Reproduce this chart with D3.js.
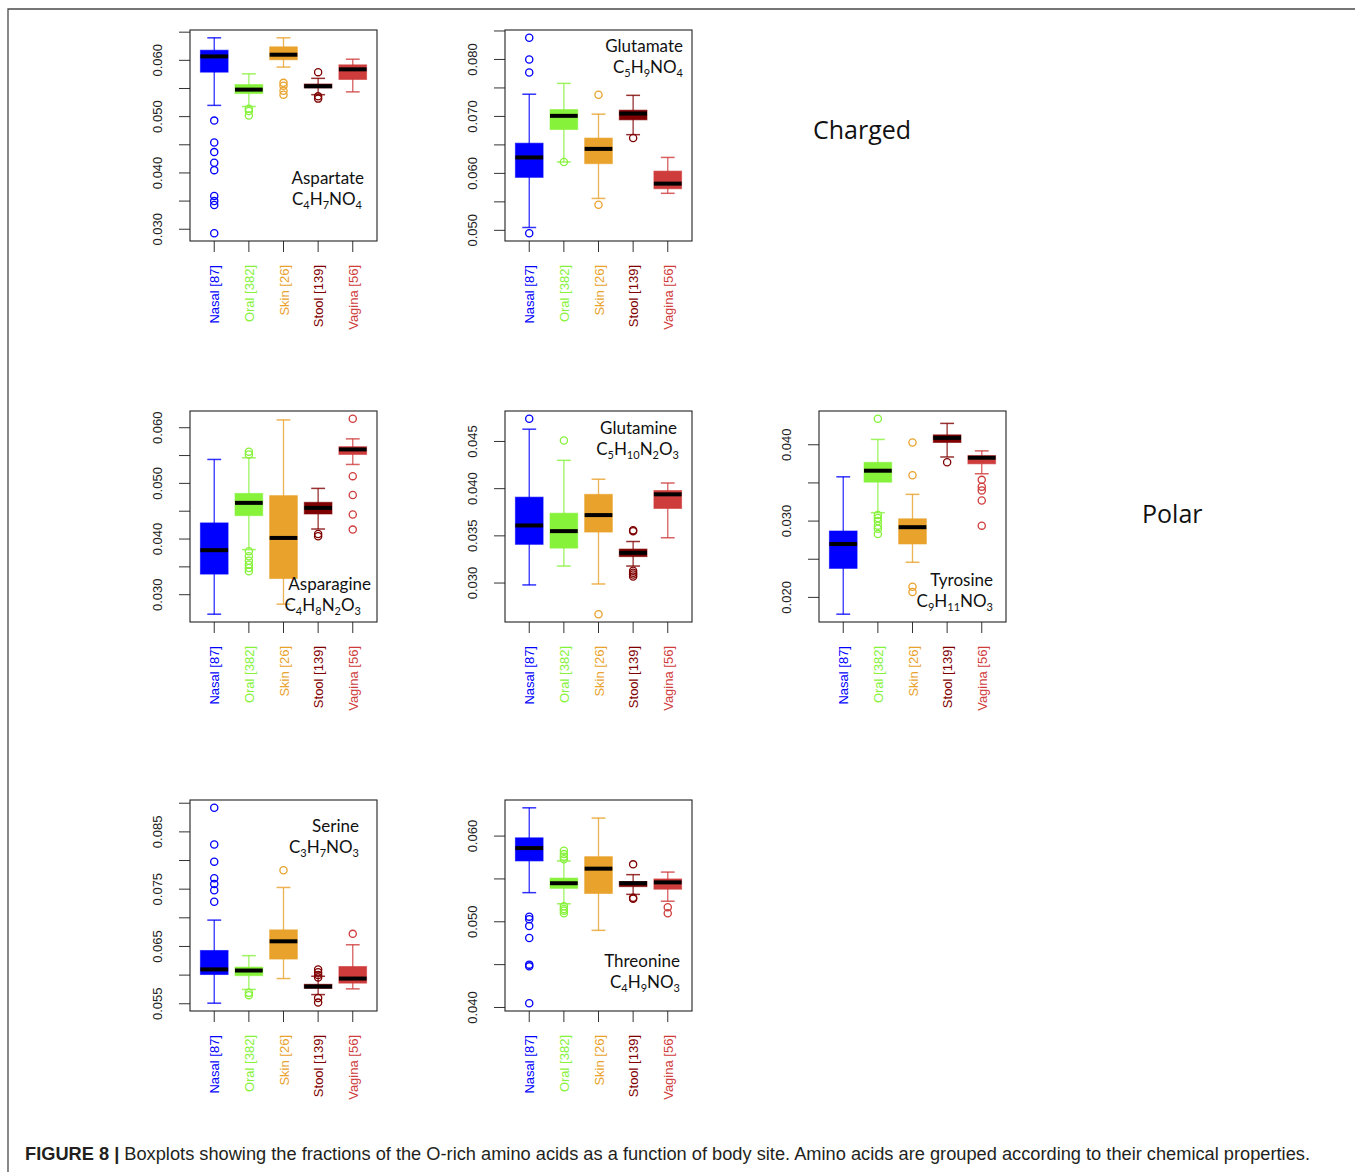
<!DOCTYPE html>
<html lang="en">
<head>
<meta charset="utf-8">
<title>Figure 8 - O-rich amino acids by body site</title>
<script src="https://d3js.org/d3.v7.min.js"></script>
<style>
  body { margin: 0; background: #fff; }
  .tick-label { font-family: "Liberation Sans", Arial, sans-serif; font-size: 13px; fill: #222; }
  .acid { font-family: Lato, "Open Sans", sans-serif; font-size: 17px; fill: #111; }
  .group { font-family: "Open Sans", "Noto Sans", sans-serif; font-size: 25px; fill: #111; }
  .caption { font-family: "Liberation Sans", Arial, sans-serif; font-size: 17.5px; fill: #231f20; }
</style>
</head>
<body>
<svg id="chart"></svg>
<script>
// categories (body sites) and their colours
const sites = ["Nasal [87]", "Oral [382]", "Skin [26]", "Stool [139]", "Vagina [56]"];
const siteColors = ["#0000FF", "#86F23A", "#E9A22B", "#7F0000", "#CF3C3C"];

// box stats per site: [lower whisker, Q1, median, Q3, upper whisker]
const aspartateBoxes = [
  [0.0520, 0.0579, 0.0607, 0.0618, 0.0640],
  [0.0518, 0.0541, 0.0548, 0.0557, 0.0576],
  [0.0588, 0.0601, 0.0610, 0.0624, 0.0640],
  [0.0539, 0.0551, 0.0554, 0.0558, 0.0568],
  [0.0544, 0.0566, 0.0584, 0.0592, 0.0602]
];
const aspartateOutliers = [
  [0.0493, 0.0454, 0.0437, 0.0418, 0.0405, 0.0359, 0.0350, 0.0343, 0.0293],
  [0.0514, 0.0510, 0.0502],
  [0.0560, 0.0555, 0.0546, 0.0539],
  [0.0579, 0.0536, 0.0532],
  []
];
const aspartateTicks = [0.030, 0.035, 0.040, 0.045, 0.050, 0.055, 0.060, 0.065];
const aspartateLabels = ["0.030", "0.040", "0.050", "0.060"];

const glutamateBoxes = [
  [0.0505, 0.0593, 0.0628, 0.0653, 0.0739],
  [0.0620, 0.0677, 0.0701, 0.0712, 0.0758],
  [0.0556, 0.0617, 0.0643, 0.0662, 0.0704],
  [0.0668, 0.0694, 0.0705, 0.0711, 0.0737],
  [0.0565, 0.0573, 0.0582, 0.0604, 0.0628]
];
const glutamateOutliers = [
  [0.0838, 0.0800, 0.0777, 0.0495],
  [0.0620],
  [0.0738, 0.0545],
  [0.0662],
  []
];
const glutamateTicks = [0.050, 0.055, 0.060, 0.065, 0.070, 0.075, 0.080, 0.085];
const glutamateLabels = ["0.050", "0.060", "0.070", "0.080"];

const asparagineBoxes = [
  [0.0265, 0.0337, 0.0380, 0.0429, 0.0543],
  [0.0381, 0.0442, 0.0465, 0.0482, 0.0546],
  [0.0283, 0.0329, 0.0402, 0.0478, 0.0614],
  [0.0418, 0.0445, 0.0456, 0.0466, 0.0491],
  [0.0534, 0.0552, 0.0561, 0.0566, 0.0580]
];
const asparagineOutliers = [
  [],
  [0.0557, 0.0552, 0.0378, 0.0369, 0.0361, 0.0354, 0.0348, 0.0342],
  [],
  [0.0409, 0.0405],
  [0.0616, 0.0513, 0.0479, 0.0444, 0.0417]
];
const asparagineTicks = [0.030, 0.035, 0.040, 0.045, 0.050, 0.055, 0.060];
const asparagineLabels = ["0.030", "0.040", "0.050", "0.060"];

const glutamineBoxes = [
  [0.0298, 0.0341, 0.0361, 0.0391, 0.0463],
  [0.0318, 0.0337, 0.0355, 0.0374, 0.0430],
  [0.0299, 0.0354, 0.0372, 0.0394, 0.0410],
  [0.0318, 0.0328, 0.0332, 0.0336, 0.0344],
  [0.0348, 0.0379, 0.0394, 0.0398, 0.0406]
];
const glutamineOutliers = [
  [0.0474],
  [0.0451],
  [0.0267],
  [0.0356, 0.0355, 0.0313, 0.0311, 0.0309, 0.0307],
  []
];
const glutamineTicks = [0.030, 0.035, 0.040, 0.045];
const glutamineLabels = ["0.030", "0.035", "0.040", "0.045"];

const tyrosineBoxes = [
  [0.0178, 0.0238, 0.0270, 0.0287, 0.0358],
  [0.0311, 0.0351, 0.0366, 0.0377, 0.0407],
  [0.0246, 0.0270, 0.0292, 0.0303, 0.0335],
  [0.0384, 0.0403, 0.0409, 0.0413, 0.0428],
  [0.0362, 0.0375, 0.0383, 0.0386, 0.0392]
];
const tyrosineOutliers = [
  [],
  [0.0434, 0.0308, 0.0304, 0.0300, 0.0294, 0.0290, 0.0283],
  [0.0403, 0.0360, 0.0214, 0.0207],
  [0.0377],
  [0.0354, 0.0345, 0.0340, 0.0327, 0.0294]
];
const tyrosineTicks = [0.020, 0.025, 0.030, 0.035, 0.040];
const tyrosineLabels = ["0.020", "0.030", "0.040"];

const serineBoxes = [
  [0.0551, 0.0601, 0.0610, 0.0643, 0.0696],
  [0.0575, 0.0599, 0.0608, 0.0614, 0.0634],
  [0.0594, 0.0628, 0.0659, 0.0679, 0.0753],
  [0.0566, 0.0577, 0.0580, 0.0584, 0.0598],
  [0.0576, 0.0586, 0.0594, 0.0615, 0.0653]
];
const serineOutliers = [
  [0.0892, 0.0828, 0.0798, 0.0769, 0.0759, 0.0748, 0.0728],
  [0.0569, 0.0565],
  [0.0783],
  [0.0610, 0.0605, 0.0600, 0.0596, 0.0560, 0.0552],
  [0.0672]
];
const serineTicks = [0.055, 0.060, 0.065, 0.070, 0.075, 0.080, 0.085, 0.090];
const serineLabels = ["0.055", "0.065", "0.075", "0.085"];

const threonineBoxes = [
  [0.0534, 0.0571, 0.0586, 0.0598, 0.0633],
  [0.0521, 0.0539, 0.0545, 0.0551, 0.0571],
  [0.0490, 0.0533, 0.0562, 0.0576, 0.0621],
  [0.0532, 0.0541, 0.0545, 0.0547, 0.0555],
  [0.0524, 0.0538, 0.0546, 0.0550, 0.0558]
];
const threonineOutliers = [
  [0.0506, 0.0503, 0.0495, 0.0481, 0.0450, 0.0448, 0.0405],
  [0.0583, 0.0579, 0.0576, 0.0573, 0.0518, 0.0515, 0.0513, 0.0510],
  [],
  [0.0567, 0.0528, 0.0527],
  [0.0517, 0.0510]
];
const threonineTicks = [0.040, 0.045, 0.050, 0.055, 0.060];
const threonineLabels = ["0.040", "0.050", "0.060"];

const groupNames = ["Charged", "Polar"];
const captionBold = "FIGURE 8 |";
const captionText = " Boxplots showing the fractions of the O-rich amino acids as a function of body site. Amino acids are grouped according to their chemical properties.";

// panel layout: plot box top-left, right edge of the name / formula lines and their baselines
const panels = [
  {name: "Aspartate", formula: "C4H7NO4", boxes: aspartateBoxes, outliers: aspartateOutliers, ticks: aspartateTicks, labels: aspartateLabels,
   x: 190, y: 30, nameX: 364, nameY: 184, formX: 362, formY: 205},
  {name: "Glutamate", formula: "C5H9NO4", boxes: glutamateBoxes, outliers: glutamateOutliers, ticks: glutamateTicks, labels: glutamateLabels,
   x: 505, y: 30, nameX: 683, nameY: 52, formX: 683, formY: 73},
  {name: "Asparagine", formula: "C4H8N2O3", boxes: asparagineBoxes, outliers: asparagineOutliers, ticks: asparagineTicks, labels: asparagineLabels,
   x: 190, y: 411, nameX: 371, nameY: 590, formX: 361, formY: 611},
  {name: "Glutamine", formula: "C5H10N2O3", boxes: glutamineBoxes, outliers: glutamineOutliers, ticks: glutamineTicks, labels: glutamineLabels,
   x: 505, y: 411, nameX: 677, nameY: 434, formX: 679, formY: 455},
  {name: "Tyrosine", formula: "C9H11NO3", boxes: tyrosineBoxes, outliers: tyrosineOutliers, ticks: tyrosineTicks, labels: tyrosineLabels,
   x: 819, y: 411, nameX: 993, nameY: 586, formX: 993, formY: 607},
  {name: "Serine", formula: "C3H7NO3", boxes: serineBoxes, outliers: serineOutliers, ticks: serineTicks, labels: serineLabels,
   x: 190, y: 800, nameX: 359, nameY: 832, formX: 359, formY: 853},
  {name: "Threonine", formula: "C4H9NO3", boxes: threonineBoxes, outliers: threonineOutliers, ticks: threonineTicks, labels: threonineLabels,
   x: 505, y: 800, nameX: 680, nameY: 967, formX: 680, formY: 988}
];

const boxW = 187, boxH = 211, tickLen = 11;

const svg = d3.select("#chart")
  .attr("width", 1355)
  .attr("height", 1172);

// outer frame (top and left rule)
svg.append("path")
  .attr("d", "M8,1172V9H1355")
  .attr("fill", "none")
  .attr("stroke", "#4a4a4a")
  .attr("stroke-width", 1.3);

panels.forEach(p => {
  const g = svg.append("g");

  // R style: range of all values padded by 4% on each side
  const all = p.boxes.flat().concat(p.outliers.flat());
  const [lo, hi] = d3.extent(all);
  const pad = (hi - lo) * 0.04;
  const y = d3.scaleLinear().domain([lo - pad, hi + pad]).range([p.y + boxH, p.y]);
  const x = d3.scaleLinear().domain([0.3, 5.7]).range([p.x, p.x + boxW]);
  const unit = x(1) - x(0);

  // y ticks
  g.selectAll(".ytick").data(p.ticks).join("line")
    .attr("x1", p.x - tickLen).attr("x2", p.x)
    .attr("y1", d => y(d)).attr("y2", d => y(d))
    .attr("stroke", "#333").attr("stroke-width", 1);
  g.selectAll(".ylab").data(p.labels).join("text")
    .attr("class", "tick-label")
    .attr("text-anchor", "middle")
    .attr("transform", d => `translate(${p.x - 28},${y(+d)}) rotate(-90)`)
    .text(d => d);

  // x ticks and coloured site labels
  g.selectAll(".xtick").data(sites).join("line")
    .attr("x1", (d, i) => x(i + 1)).attr("x2", (d, i) => x(i + 1))
    .attr("y1", p.y + boxH).attr("y2", p.y + boxH + tickLen)
    .attr("stroke", "#333").attr("stroke-width", 1);
  g.selectAll(".xlab").data(sites).join("text")
    .attr("class", "tick-label")
    .attr("text-anchor", "end")
    .style("fill", (d, i) => siteColors[i])
    .attr("transform", (d, i) => `translate(${x(i + 1) + 5},${p.y + boxH + 24}) rotate(-90)`)
    .text(d => d);

  // boxes
  p.boxes.forEach((s, i) => {
    const cx = x(i + 1), half = unit * 0.4, staple = unit * 0.2;
    const col = siteColors[i];
    const bg = g.append("g");
    bg.append("line")
      .attr("x1", cx).attr("x2", cx).attr("y1", y(s[0])).attr("y2", y(s[4]))
      .attr("stroke", col).attr("stroke-width", 1.3).attr("opacity", 0.8);
    [s[0], s[4]].forEach(v => {
      bg.append("line")
        .attr("x1", cx - staple).attr("x2", cx + staple)
        .attr("y1", y(v)).attr("y2", y(v))
        .attr("stroke", col).attr("stroke-width", 1.5).attr("opacity", 0.8);
    });
    bg.append("rect")
      .attr("x", cx - half).attr("width", half * 2)
      .attr("y", y(s[3])).attr("height", y(s[1]) - y(s[3]))
      .attr("fill", col).attr("stroke", col).attr("stroke-opacity", 0.6).attr("stroke-width", 1);
    bg.append("line")
      .attr("x1", cx - half).attr("x2", cx + half)
      .attr("y1", y(s[2])).attr("y2", y(s[2]))
      .attr("stroke", "#000").attr("stroke-width", 4);
    bg.selectAll("circle").data(p.outliers[i]).join("circle")
      .attr("cx", cx).attr("cy", d => y(d)).attr("r", 3.6)
      .attr("fill", "none").attr("stroke", col).attr("stroke-width", 1.3);
  });

  // plot frame
  g.append("rect")
    .attr("x", p.x).attr("y", p.y).attr("width", boxW).attr("height", boxH)
    .attr("fill", "none").attr("stroke", "#222").attr("stroke-width", 1.1);

  // amino acid name and formula (digits as subscripts)
  g.append("text").attr("class", "acid")
    .attr("x", p.nameX).attr("y", p.nameY).attr("text-anchor", "end")
    .text(p.name);
  const ft = g.append("text").attr("class", "acid")
    .attr("x", p.formX).attr("y", p.formY).attr("text-anchor", "end");
  let sub = false;
  p.formula.match(/\d+|\D+/g).forEach(part => {
    const isNum = /\d/.test(part);
    const t = ft.append("tspan").text(part);
    if (isNum) t.style("font-size", "11px");
    if (isNum && !sub) { t.attr("dy", 4); sub = true; }
    else if (!isNum && sub) { t.attr("dy", -4); sub = false; }
  });
});

// group headings
svg.append("text").attr("class", "group").attr("x", 813).attr("y", 139).text(groupNames[0]);
svg.append("text").attr("class", "group").attr("x", 1142).attr("y", 523).text(groupNames[1]);

// caption
const cap = svg.append("text").attr("class", "caption")
  .attr("x", 25).attr("y", 1160)
  .attr("textLength", 1285).attr("lengthAdjust", "spacingAndGlyphs");
cap.append("tspan").attr("font-weight", "bold").text(captionBold);
cap.append("tspan").text(captionText);
</script>
</body>
</html>
